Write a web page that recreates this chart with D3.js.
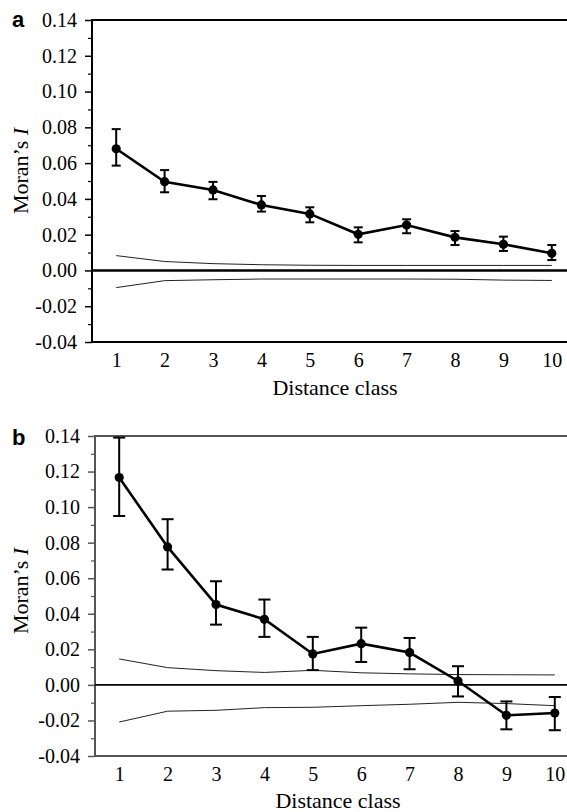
<!DOCTYPE html>
<html>
<head>
<meta charset="utf-8">
<script src="https://cdn.jsdelivr.net/npm/d3@7"></script>
<style>
  body { margin: 0; background: #fff; }
  svg { display: block; }
</style>
</head>
<body>
<svg width="567" height="812"></svg>
<script>
// distance classes on the x axis
var classes = [1, 2, 3, 4, 5, 6, 7, 8, 9, 10];
var yTicks = [-0.04, -0.02, 0.00, 0.02, 0.04, 0.06, 0.08, 0.10, 0.12, 0.14];
var yMinor = [-0.03, -0.01, 0.01, 0.03, 0.05, 0.07, 0.09, 0.11, 0.13];

// panel a
var aMean = [0.068, 0.0496, 0.045, 0.0366, 0.0316, 0.0202, 0.0254, 0.0185, 0.0146, 0.0096];
var aHigh = [0.079, 0.0561, 0.0495, 0.0416, 0.0353, 0.0241, 0.0286, 0.022, 0.0189, 0.0142];
var aLow  = [0.0586, 0.0437, 0.0398, 0.0329, 0.0269, 0.0157, 0.0208, 0.0142, 0.0109, 0.0058];
var aEnvUp = [0.0083, 0.005, 0.0038, 0.0032, 0.0029, 0.0028, 0.0028, 0.0028, 0.0028, 0.0028];
var aEnvLo = [-0.0096, -0.0057, -0.0052, -0.0048, -0.0048, -0.0048, -0.0048, -0.0049, -0.0054, -0.0056];

// panel b
var bMean = [0.1166, 0.0776, 0.0452, 0.0369, 0.0174, 0.0232, 0.0182, 0.0022, -0.0171, -0.0158];
var bHigh = [0.1391, 0.0932, 0.0583, 0.048, 0.027, 0.0322, 0.0264, 0.0105, -0.0093, -0.0068];
var bLow  = [0.095, 0.0649, 0.0339, 0.027, 0.0083, 0.0129, 0.0088, -0.0065, -0.025, -0.0255];
var bEnvUp = [0.0146, 0.0097, 0.008, 0.007, 0.0082, 0.0068, 0.0062, 0.0058, 0.0057, 0.0056];
var bEnvLo = [-0.0209, -0.0148, -0.0143, -0.0128, -0.0126, -0.0117, -0.0109, -0.0098, -0.0105, -0.0117];

var svg = d3.select("svg");
var serif = "Liberation Serif, Times New Roman, serif";

function styleText(s) {
    s.attr("font-family", serif).attr("font-size", 20);
    s.selectAll(".tick text")
        .attr("font-family", serif)
        .style("font-family", serif)
        .style("font-size", "20px")
        .attr("fill", "#000");
}

function panel(opt) {
    var x = d3.scaleLinear().domain([0.5, 10.5]).range([opt.left, opt.left + 484]);
    var y = d3.scaleLinear().domain([-0.04, 0.14]).range([opt.bottom, opt.top]);
    var g = svg.append("g");

    // minor ticks
    g.append("g")
        .attr("transform", "translate(" + opt.left + ",0)")
        .call(d3.axisLeft(y).tickValues(yMinor).tickSize(4).tickFormat(""))
        .call(function(s) {
            s.select(".domain").remove();
            s.selectAll(".tick line").attr("stroke", opt.axisColor).attr("stroke-width", 1.2);
        });

    // major ticks + labels
    g.append("g")
        .attr("transform", "translate(" + opt.left + ",0)")
        .call(d3.axisLeft(y).tickValues(yTicks).tickSize(7).tickPadding(8)
            .tickFormat(function(d) { return d.toFixed(2); }))
        .call(function(s) {
            s.select(".domain").remove();
            s.selectAll(".tick line").attr("stroke", opt.axisColor).attr("stroke-width", 1.5);
        })
        .call(styleText);

    // x labels (no tick marks)
    g.append("g")
        .attr("transform", "translate(0," + opt.bottom + ")")
        .call(d3.axisBottom(x).tickValues(classes).tickSize(0).tickPadding(11).tickFormat(d3.format("d")))
        .call(function(s) { s.select(".domain").remove(); })
        .call(styleText);

    // frame: left, top, bottom
    g.append("path")
        .attr("d", "M567," + opt.top + "H" + opt.left + "V" + opt.bottom + "H567")
        .attr("fill", "none")
        .attr("stroke", opt.axisColor)
        .attr("stroke-width", 2);

    // zero line
    g.append("line")
        .attr("x1", opt.left).attr("x2", 567)
        .attr("y1", y(0)).attr("y2", y(0))
        .attr("stroke", "#000")
        .attr("stroke-width", opt.zeroWidth);

    // envelope lines
    var thin = d3.line().x(function(d, i) { return x(classes[i]); }).y(function(d) { return y(d); });
    [opt.envUp, opt.envLo].forEach(function(arr) {
        g.append("path")
            .attr("d", thin(arr))
            .attr("fill", "none")
            .attr("stroke", "#222")
            .attr("stroke-width", 1);
    });

    // error bars
    var eb = g.selectAll(".err").data(classes).enter().append("g").attr("class", "err");
    eb.append("line")
        .attr("x1", function(d) { return x(d); }).attr("x2", function(d) { return x(d); })
        .attr("y1", function(d, i) { return y(opt.low[i]); })
        .attr("y2", function(d, i) { return y(opt.high[i]); })
        .attr("stroke", "#000").attr("stroke-width", 2);
    ["high", "low"].forEach(function(k) {
        eb.append("line")
            .attr("x1", function(d) { return x(d) - opt.cap; })
            .attr("x2", function(d) { return x(d) + opt.cap; })
            .attr("y1", function(d, i) { return y(opt[k][i]); })
            .attr("y2", function(d, i) { return y(opt[k][i]); })
            .attr("stroke", "#000").attr("stroke-width", 2);
    });

    // mean line
    g.append("path")
        .attr("d", thin(opt.mean))
        .attr("fill", "none")
        .attr("stroke", "#000")
        .attr("stroke-width", 2.6);

    g.selectAll(".dot").data(opt.mean).enter().append("circle")
        .attr("class", "dot")
        .attr("cx", function(d, i) { return x(classes[i]); })
        .attr("cy", function(d) { return y(d); })
        .attr("r", 4.6)
        .attr("fill", "#000");

    // axis titles
    g.append("text")
        .attr("x", x(5.5) + 1)
        .attr("y", opt.bottom + opt.titleGap)
        .attr("text-anchor", "middle")
        .style("font-family", serif)
        .style("font-size", "22px")
        .text("Distance class");

    var yl = g.append("text")
        .attr("transform", "translate(28," + opt.yTitleMid + ") rotate(-90)")
        .attr("text-anchor", "middle")
        .style("font-family", serif)
        .style("font-size", "22px");
    yl.append("tspan").text("Moran\u2019s ");
    yl.append("tspan").style("font-style", "italic").text("I");

    g.append("text")
        .attr("x", 12)
        .attr("y", opt.letterY)
        .style("font-family", "Liberation Sans, Arial, sans-serif")
        .style("font-weight", "bold")
        .style("font-size", "22px")
        .text(opt.letter);
}

panel({letter: "a", letterY: 27, left: 92, top: 20, bottom: 342, axisColor: "#000", zeroWidth: 2.6, cap: 4.5,
    titleGap: 53, yTitleMid: 171,
    mean: aMean, high: aHigh, low: aLow, envUp: aEnvUp, envLo: aEnvLo});
panel({letter: "b", letterY: 445, left: 95, top: 436, bottom: 756, axisColor: "#555", zeroWidth: 1.6, cap: 6,
    titleGap: 52, yTitleMid: 591,
    mean: bMean, high: bHigh, low: bLow, envUp: bEnvUp, envLo: bEnvLo});
</script>
</body>
</html>
